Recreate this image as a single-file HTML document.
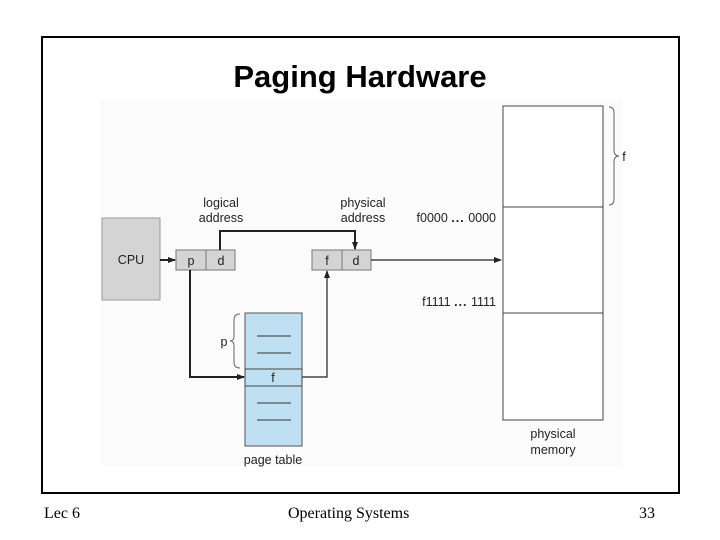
<!DOCTYPE html>
<html><head><style>
body{margin:0;width:720px;height:540px;background:#fff;overflow:hidden;position:relative;font-family:"Liberation Sans",sans-serif}
.frame{position:absolute;left:41px;top:36px;width:635px;height:454px;border:2px solid #000}
.title{position:absolute;left:0;width:720px;top:59px;text-align:center;font-size:31px;font-weight:bold;color:#000;line-height:36px}
.foot{position:absolute;top:505px;font-family:"Liberation Serif",serif;font-size:16px}
</style></head><body>
<div class="frame"></div>
<div class="title">Paging Hardware</div>
<svg style="position:absolute;left:0;top:0" width="720" height="540" font-family="Liberation Sans, sans-serif" font-size="12.5" fill="#222">
<defs><marker id="a" markerWidth="8" markerHeight="8" refX="7" refY="4" orient="auto" markerUnits="userSpaceOnUse"><path d="M0,1 L8,4 L0,7 z" fill="#222"/></marker></defs>
<rect x="100" y="100" width="522" height="366" fill="#fbfbfb"/>
<rect x="102" y="218" width="58" height="82" fill="#d4d4d4" stroke="#999"/>
<text x="131" y="264" text-anchor="middle">CPU</text>
<rect x="176" y="250" width="59" height="20" fill="#d4d4d4" stroke="#777"/>
<line x1="206" y1="250" x2="206" y2="270" stroke="#777"/>
<text x="191" y="265" text-anchor="middle">p</text><text x="221" y="265" text-anchor="middle">d</text>
<rect x="312" y="250" width="59" height="20" fill="#d4d4d4" stroke="#777"/>
<line x1="342" y1="250" x2="342" y2="270" stroke="#777"/>
<text x="327" y="265" text-anchor="middle">f</text><text x="356" y="265" text-anchor="middle">d</text>
<text x="221" y="207" text-anchor="middle">logical</text><text x="221" y="222" text-anchor="middle">address</text>
<text x="363" y="207" text-anchor="middle">physical</text><text x="363" y="222" text-anchor="middle">address</text>
<g stroke="#222" fill="none">
<line x1="160" y1="260" x2="175" y2="260" stroke-width="2" marker-end="url(#a)"/>
<polyline points="220,250 220,231 355,231 355,249" stroke-width="2" marker-end="url(#a)"/>
<polyline points="190,270 190,377 244,377" stroke-width="2" marker-end="url(#a)"/>
<polyline points="302,377 327,377 327,271" stroke-width="1.2" marker-end="url(#a)"/>
<line x1="371" y1="260" x2="501" y2="260" stroke-width="1.2" marker-end="url(#a)"/>
</g>
<rect x="245" y="313" width="57" height="133" fill="#bfe0f3" stroke="#555"/>
<rect x="245" y="369" width="57" height="17" fill="#bfe0f3" stroke="#444"/>
<text x="273" y="382" text-anchor="middle">f</text>
<g stroke="#333"><line x1="257" y1="336" x2="291" y2="336"/><line x1="257" y1="353" x2="291" y2="353"/><line x1="257" y1="403" x2="291" y2="403"/><line x1="257" y1="420" x2="291" y2="420"/></g>
<path d="M240,314 Q234,314 234,320 L234,336 Q234,341 230,341 Q234,341 234,346 L234,362 Q234,368 240,368" fill="none" stroke="#666"/>
<text x="224" y="346" text-anchor="middle">p</text>
<text x="273" y="464" text-anchor="middle">page table</text>
<rect x="503" y="106" width="100" height="314" fill="#fff" stroke="#444"/>
<line x1="503" y1="207" x2="603" y2="207" stroke="#444"/>
<line x1="503" y1="313" x2="603" y2="313" stroke="#444"/>
<path d="M609,107 Q614,107 614,113 L614,150 Q614,156 619,156 Q614,156 614,162 L614,199 Q614,205 609,205" fill="none" stroke="#666"/>
<text x="624" y="161" text-anchor="middle">f</text>
<text x="496" y="222" text-anchor="end">f0000 <tspan font-weight="bold" letter-spacing="1">...</tspan> 0000</text>
<text x="496" y="306" text-anchor="end">f1111 <tspan font-weight="bold" letter-spacing="1">...</tspan> 1111</text>
<text x="553" y="438" text-anchor="middle">physical</text><text x="553" y="454" text-anchor="middle">memory</text>
</svg>
<div class="foot" style="left:44px">Lec 6</div>
<div class="foot" style="left:288px">Operating Systems</div>
<div class="foot" style="left:639px">33</div>
</body></html>
